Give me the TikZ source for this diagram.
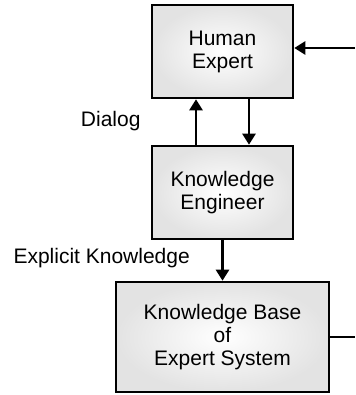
\documentclass[tikz,border=0pt]{standalone}
\usepackage{fontspec}
\setmainfont{Liberation Sans}
\usetikzlibrary{positioning,arrows.meta}
\definecolor{boxedge}{rgb}{0.89,0.89,0.89}

\begin{document}
\begin{tikzpicture}[x=1pt, y=-1pt, font=\fontsize{21}{23}\selectfont, box/.style = {shape=rectangle, draw, line width=2.6pt, align=center, shading=radial, inner color=white, outer color=boxedge, minimum width=141pt, minimum height=93pt}, flow/.style = {line width=2.6pt, -{Triangle[length=11pt,width=13pt]}}]
	\useasboundingbox (0,0) rectangle (355,395);
	\node[box] (expert) at (222.5,51.5) {Human\\Expert};
	\node[box, below=45.4pt of expert] (engineer) {Knowledge\\Engineer};
	\node[box, below=40.4pt of engineer, minimum width=213pt, minimum height=110pt] (kbase) {Knowledge Base\\of\\Expert System};
	\coordinate (feed) at (355,48);
	\coordinate (exit) at (355,337);
	% dialog between expert and engineer
	\draw[flow] ([xshift=-26.5pt]engineer.north) -- ([xshift=-26.5pt]expert.south);
	\draw[flow] ([xshift=26.5pt]expert.south) -- ([xshift=26.5pt]engineer.north);
	\draw[flow] (engineer) -- (kbase);
	\draw[flow] (feed) -- (expert.east |- feed);
	\draw[line width=2.6pt] (kbase.east |- exit) -- (exit);
	% labels
	\node[anchor=east] (dialog) at (144,121) {Dialog};
	\node[anchor=west] (explicit) at (10,258) {Explicit Knowledge};
	\end{tikzpicture}
\end{document}
